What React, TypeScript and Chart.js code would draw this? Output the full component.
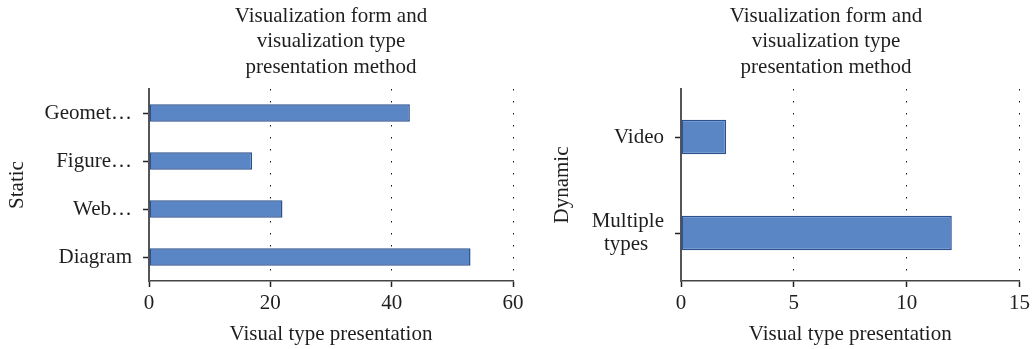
import React, { useEffect, useRef } from "react";
import { Chart, registerables } from "chart.js";

Chart.register(...registerables);

const titleLines = ["Visualization form and", "visualization type", "presentation method"];
const xAxisTitle = "Visual type presentation";

const staticLabel = "Static";
const staticCategories: (string | string[])[] = ["Geomet…", "Figure…", "Web…", "Diagram"];
const staticValues = [43, 17, 22, 53];
const staticMax = 60;
const staticStep = 20;

const dynamicLabel = "Dynamic";
const dynamicCategories: (string | string[])[] = ["Video", ["Multiple", "types   "]];
const dynamicValues = [2, 12];
const dynamicMax = 15;
const dynamicStep = 5;

const FONT = "'Liberation Serif', 'Times New Roman', serif";
const TEXT = "#1e1e1e";
const FS = 21;

type PanelProps = {
  left: number;
  width: number;
  yWidth: number;
  padRight: number;
  titleCenter: number;
  yTitle: string;
  categories: (string | string[])[];
  values: number[];
  max: number;
  step: number;
};

function Panel(p: PanelProps) {
  const ref = useRef<HTMLCanvasElement | null>(null);
  useEffect(() => {
    if (!ref.current) return;
    const titlePlugin = {
      id: "manualTitle",
      afterDraw(chart: any) {
        const ctx = chart.ctx;
        ctx.save();
        ctx.font = `${FS}px ${FONT}`;
        ctx.fillStyle = TEXT;
        ctx.textAlign = "center";
        ctx.textBaseline = "middle";
        titleLines.forEach((t, i) => {
          ctx.fillText(t, p.titleCenter, 16 + i * 25.5);
        });
        ctx.restore();
      },
    };
    const chart = new Chart(ref.current, {
      type: "bar",
      data: {
        labels: p.categories,
        datasets: [
          {
            data: p.values,
            backgroundColor: "#5a86c5",
            borderColor: "#2c5190",
            borderWidth: 1.5,
            borderSkipped: false,
            categoryPercentage: 1,
            barPercentage: 0.36,
          },
        ],
      },
      plugins: [titlePlugin],
      options: {
        indexAxis: "y",
        responsive: false,
        animation: false,
        layout: { padding: { top: 89, right: p.padRight, left: 0, bottom: 0 } },
        plugins: {
          legend: { display: false },
          tooltip: { enabled: false },
          title: { display: false },
        },
        scales: {
          x: {
            type: "linear",
            min: 0,
            max: p.max,
            ticks: {
              stepSize: p.step,
              color: TEXT,
              font: { family: FONT, size: FS },
              padding: 4,
              maxRotation: 0,
            },
            grid: {
              display: true,
              drawOnChartArea: true,
              drawTicks: true,
              tickLength: 6,
              color: "#111",
              lineWidth: 1,
              tickColor: "#222",
              tickWidth: 1.5,
              tickBorderDash: [],
            },
            border: { display: true, color: "#444", width: 1.5, dash: [1.5, 10.5] },
            title: {
              display: true,
              text: xAxisTitle,
              color: TEXT,
              font: { family: FONT, size: FS },
              padding: 2,
            },
            afterFit(scale: any) {
              scale.height = 68;
            },
          },
          y: {
            type: "category",
            ticks: {
              color: TEXT,
              font: { family: FONT, size: FS, lineHeight: 1.1 },
              padding: 11,
            },
            grid: {
              display: true,
              drawOnChartArea: false,
              drawTicks: true,
              tickLength: 6,
              offset: false,
              tickColor: "#222",
              tickWidth: 1.5,
            },
            border: { display: true, color: "#555", width: 2 },
            title: {
              display: true,
              text: p.yTitle,
              color: TEXT,
              font: { family: FONT, size: FS },
              padding: 5,
            },
            afterFit(scale: any) {
              scale.width = p.yWidth;
            },
          },
        },
      } as any,
    });
    return () => chart.destroy();
  }, []);
  return (
    <canvas
      ref={ref}
      width={p.width}
      height={349}
      style={{ position: "absolute", left: p.left, top: 0, width: p.width, height: 349 }}
    />
  );
}

export default function App() {
  useEffect(() => {
    document.body.style.margin = "0";
    document.body.style.background = "#fff";
  }, []);
  return (
    <div style={{ position: "relative", width: 1034, height: 349, background: "#fff" }}>
      <Panel
        left={0}
        width={530}
        yWidth={149}
        padRight={17}
        titleCenter={331}
        yTitle={staticLabel}
        categories={staticCategories}
        values={staticValues}
        max={staticMax}
        step={staticStep}
      />
      <Panel
        left={545}
        width={489}
        yWidth={136}
        padRight={12}
        titleCenter={826 - 545}
        yTitle={dynamicLabel}
        categories={dynamicCategories}
        values={dynamicValues}
        max={dynamicMax}
        step={dynamicStep}
      />
    </div>
  );
}
